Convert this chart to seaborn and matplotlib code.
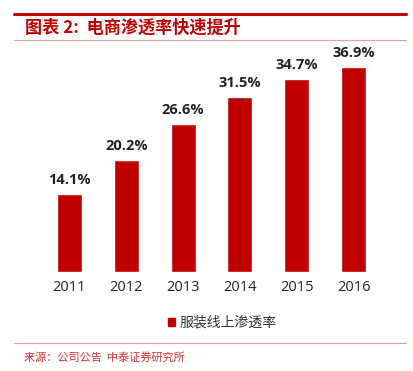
import matplotlib
matplotlib.use("Agg")
import matplotlib.pyplot as plt
import seaborn as sns
import pandas as pd
from matplotlib.lines import Line2D
from matplotlib.patches import Patch

years = ["2011", "2012", "2013", "2014", "2015", "2016"]
rates = [14.1, 20.2, 26.6, 31.5, 34.7, 36.9]
series_name = "服装线上渗透率"
title_text = "图表 2:  电商渗透率快速提升"
source_text = "来源：公司公告  中泰证券研究所"

red = "#C00000"

sns.set_theme(style="white")
plt.rcParams['font.family'] = ['Noto Sans CJK SC', 'DejaVu Sans']

df = pd.DataFrame({"year": years, "rate": rates})

fig = plt.figure(figsize=(4.13, 3.71), dpi=100)
ax = fig.add_axes([41 / 413, 1 - 272 / 371, 341 / 413, 222 / 371])

sns.barplot(data=df, x="year", y="rate", color=red, saturation=1, width=0.44, ax=ax)
ax.set_ylim(0, 40)
ax.set_xlim(-0.5, 5.5)
ax.set_xlabel("")
ax.set_ylabel("")
ax.set_yticks([])
for s in ax.spines.values():
    s.set_visible(False)
ax.tick_params(axis="x", length=0, labelsize=10.5, pad=6, colors="#222222")
for lbl in ax.get_xticklabels():
    lbl.set_family(["Open Sans", "DejaVu Sans"])

for i, v in enumerate(rates):
    ax.text(i, v + 1.3, f"{v}%", ha="center", va="bottom", fontsize=10.5,
            fontweight="bold", color="#222222", family=["Open Sans", "DejaVu Sans"])

# header / footer decorations
fig.add_artist(Line2D([14 / 413, 406 / 413], [1 - 14 / 371, 1 - 14 / 371],
                      color=red, lw=2.2, transform=fig.transFigure))
fig.add_artist(Line2D([14 / 413, 406 / 413], [1 - 40 / 371, 1 - 40 / 371],
                      color="#E8A0A0", lw=0.8, transform=fig.transFigure))
fig.add_artist(Line2D([14 / 413, 406 / 413], [1 - 343 / 371, 1 - 343 / 371],
                      color="#E8A0A0", lw=0.8, transform=fig.transFigure))

fig.text(25 / 413, 1 - 28 / 371, title_text, ha="left", va="center", fontsize=12.3,
         fontweight="bold", color=red, style="italic")
fig.text(24 / 413, 1 - 357 / 371, source_text, ha="left", va="center", fontsize=8,
         color="#E03030")

handle = Patch(facecolor=red, edgecolor=red)
fig.legend([handle], [series_name], loc="center", bbox_to_anchor=(222 / 413, 1 - 323 / 371),
           frameon=False, fontsize=10, handlelength=0.55, handleheight=0.55,
           handletextpad=0.3, labelcolor="#333333")

fig.savefig("out.png", dpi=100)
